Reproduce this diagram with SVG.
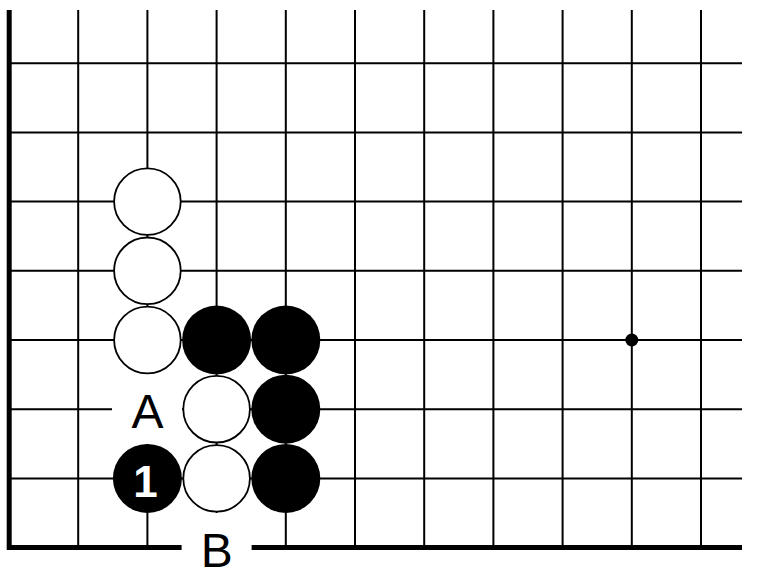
<svg xmlns="http://www.w3.org/2000/svg" width="759" height="573" viewBox="0 0 759 573">
<style>
.g{stroke:#000;stroke-width:2;fill:none}
.edge{stroke:#000;stroke-width:5;fill:none}
.w{fill:#fff;stroke:#000;stroke-width:1.8}
.b{fill:#000}
.lbl{font-family:"Liberation Sans",Arial,sans-serif;font-size:48px;fill:#000;text-anchor:middle}
.num{font-family:"Liberation Sans",Arial,sans-serif;font-size:44px;font-weight:bold;fill:#fff;text-anchor:middle}
.bg{fill:#fff}
</style>
<rect width="759" height="573" fill="#fff"/>
<g id="grid">
<path class="g" d="M9 63.2H742M9 132.4H742M9 201.6H742M9 270.8H742M9 340H742M9 409.2H742M9 478.4H742"/>
<path class="g" d="M78.2 10V547.6M147.4 10V547.6M216.6 10V547.6M285.8 10V547.6M355 10V547.6M424.2 10V547.6M493.4 10V547.6M562.6 10V547.6M631.8 10V547.6M701 10V547.6"/>
<path class="edge" d="M9.2 10V550M6.7 547.6H742"/>
<circle cx="631.8" cy="340" r="6.5" fill="#000"/>
</g>
<g id="labels">
<g id="label-A"><rect class="bg" x="112" y="374" width="70" height="70"/><text class="lbl" x="147.4" y="427.5">A</text></g>
<g id="label-B"><rect class="bg" x="181.6" y="513" width="70" height="60"/><text class="lbl" x="216.8" y="566.5">B</text></g>
</g>
<g id="stones">
<g id="w1"><circle class="w" cx="147.4" cy="201.6" r="33.3"/></g>
<g id="w2"><circle class="w" cx="147.4" cy="270.8" r="33.3"/></g>
<g id="w3"><circle class="w" cx="147.4" cy="340" r="33.3"/></g>
<g id="w4"><circle class="w" cx="216.6" cy="409.2" r="33.3"/></g>
<g id="w5"><circle class="w" cx="216.6" cy="478.4" r="33.3"/></g>
<g id="b1"><circle class="b" cx="216.6" cy="340" r="34.5"/></g>
<g id="b2"><circle class="b" cx="285.8" cy="340" r="34.5"/></g>
<g id="b3"><circle class="b" cx="285.8" cy="409.2" r="34.5"/></g>
<g id="b4"><circle class="b" cx="285.8" cy="478.4" r="34.5"/></g>
<g id="b5"><circle class="b" cx="147.4" cy="478.4" r="34.5"/><text class="num" x="145.5" y="496.5">1</text></g>
</g>
</svg>
